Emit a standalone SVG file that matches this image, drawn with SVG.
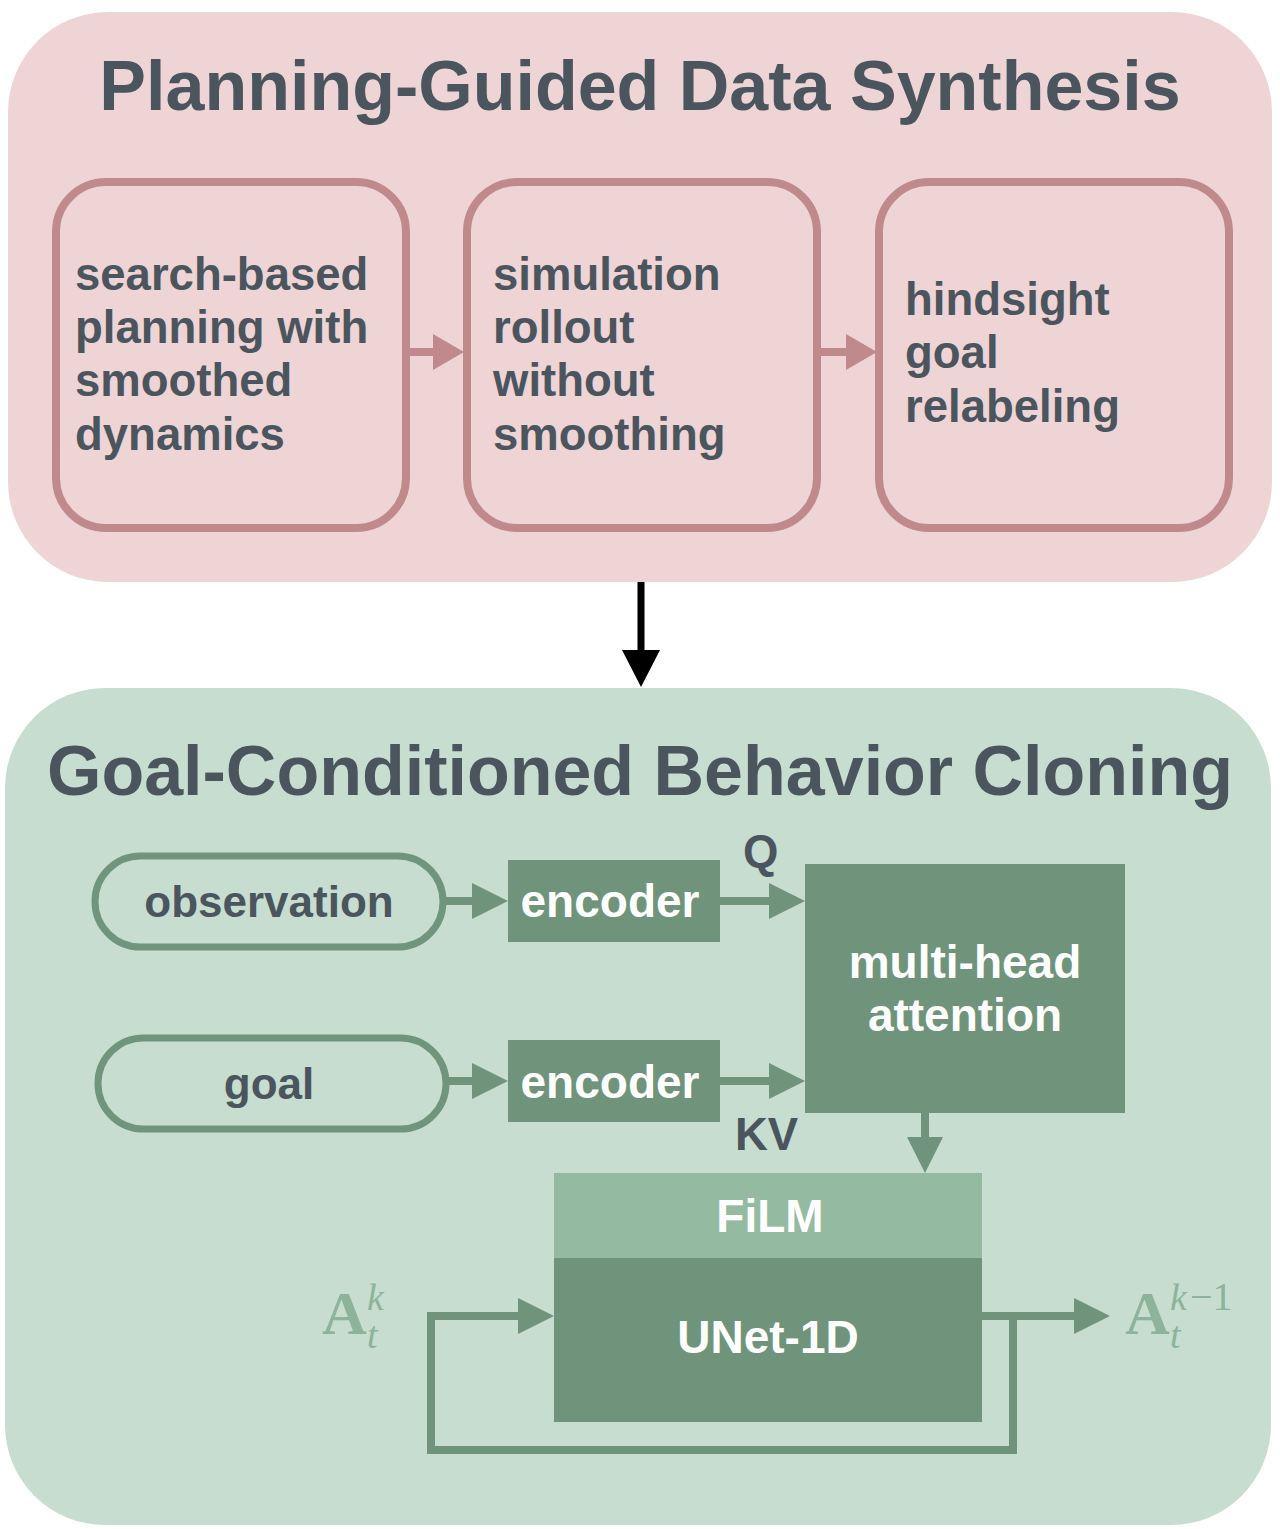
<svg xmlns="http://www.w3.org/2000/svg" width="1280" height="1529" viewBox="0 0 1280 1529">
<style>
.title{font-family:"Liberation Sans",Arial,sans-serif;font-weight:bold;font-size:70px;fill:#4b555e;text-anchor:middle}
.lbl{font-family:"Liberation Sans",Arial,sans-serif;font-weight:bold;font-size:45.5px;fill:#4b555e}
.olbl{font-family:"Liberation Sans",Arial,sans-serif;font-weight:bold;font-size:44px;fill:#4b555e;text-anchor:middle}
.wlbl{font-family:"Liberation Sans",Arial,sans-serif;font-weight:bold;font-size:46px;fill:#ffffff;text-anchor:middle}
.pbox{fill:none;stroke:#c08a8c;stroke-width:8}
.pill{fill:none;stroke:#6f967d;stroke-width:7}
.dark{fill:#6f947b}
.light{fill:#95baa2}
.math{font-family:"Liberation Serif","Times New Roman",serif;fill:#8db39a}
.pl{stroke:#c08a8c;stroke-width:8;fill:none}
.gl{stroke:#6f947b;stroke-width:8;fill:none}
</style>
<defs>
<marker id="hp" markerUnits="userSpaceOnUse" markerWidth="32" markerHeight="36" refX="0" refY="18" orient="auto"><path d="M0,0 L31,18 L0,36 z" fill="#c08a8c"/></marker>
<marker id="hg" markerUnits="userSpaceOnUse" markerWidth="37" markerHeight="36" refX="0" refY="18" orient="auto"><path d="M0,0 L36,18 L0,36 z" fill="#6f947b"/></marker>
<marker id="hb" markerUnits="userSpaceOnUse" markerWidth="38" markerHeight="38" refX="0" refY="19" orient="auto"><path d="M0,0 L37,19 L0,38 z" fill="#000000"/></marker>
</defs>

<g id="panel-planning">
<rect x="8" y="12" width="1264" height="570" rx="100" fill="#efd4d5"/>
<text class="title" x="640" y="110">Planning-Guided Data Synthesis</text>
</g>
<g id="node-search">
<rect class="pbox" x="56" y="182" width="350" height="346" rx="50"/>
<text class="lbl" x="75" y="290">search-based</text>
<text class="lbl" x="75" y="343">planning with</text>
<text class="lbl" x="75" y="396">smoothed</text>
<text class="lbl" x="75" y="450">dynamics</text>
</g>
<g id="node-rollout">
<rect class="pbox" x="467" y="182" width="350" height="346" rx="50"/>
<text class="lbl" x="493" y="290">simulation</text>
<text class="lbl" x="493" y="343">rollout</text>
<text class="lbl" x="493" y="396">without</text>
<text class="lbl" x="493" y="450">smoothing</text>
</g>
<g id="node-hindsight">
<rect class="pbox" x="879" y="182" width="350" height="346" rx="50"/>
<text class="lbl" x="905" y="315">hindsight</text>
<text class="lbl" x="905" y="368">goal</text>
<text class="lbl" x="905" y="422">relabeling</text>
</g>

<g id="panel-bc">
<rect x="5" y="688" width="1266" height="837" rx="100" fill="#c6ddd0"/>
<text class="title" x="640" y="795">Goal-Conditioned Behavior Cloning</text>
</g>
<g id="node-observation">
<rect class="pill" x="95" y="856" width="348" height="91" rx="45.5"/>
<text class="olbl" x="269" y="917">observation</text>
</g>
<g id="node-goal">
<rect class="pill" x="98" y="1038" width="348" height="91" rx="45.5"/>
<text class="olbl" x="269" y="1099">goal</text>
</g>
<g id="node-encoder-obs">
<rect class="dark" x="508" y="860" width="212" height="82"/>
<text class="wlbl" x="610" y="917">encoder</text>
</g>
<g id="node-encoder-goal">
<rect class="dark" x="508" y="1040" width="212" height="82"/>
<text class="wlbl" x="610" y="1098">encoder</text>
</g>
<g id="node-mha">
<rect class="dark" x="805" y="864" width="320" height="249"/>
<text class="wlbl" x="965" y="978">multi-head</text>
<text class="wlbl" x="965" y="1031">attention</text>
</g>
<g id="node-film">
<rect class="light" x="554" y="1173" width="428" height="86"/>
<text class="wlbl" x="770" y="1232">FiLM</text>
</g>
<g id="node-unet">
<rect class="dark" x="554" y="1258" width="428" height="164"/>
<text class="wlbl" x="768" y="1353">UNet-1D</text>
</g>
<g id="label-akt">
<text class="math" x="322" y="1334" font-size="62" font-weight="bold">A</text>
<text class="math" x="367" y="1310" font-size="38" font-style="italic">k</text>
<text class="math" x="367" y="1348" font-size="38" font-style="italic">t</text>
</g>
<g id="label-ak1t">
<text class="math" x="1125" y="1334" font-size="62" font-weight="bold">A</text>
<text class="math" x="1170" y="1310" font-size="38" font-style="italic">k</text>
<text class="math" x="1190" y="1310" font-size="40">−1</text>
<text class="math" x="1170" y="1348" font-size="38" font-style="italic">t</text>
</g>

<g id="connectors">
<line class="pl" x1="406" y1="352" x2="433" y2="352" marker-end="url(#hp)"/>
<line class="pl" x1="817" y1="352" x2="846" y2="352" marker-end="url(#hp)"/>
<line x1="641" y1="582" x2="641" y2="650" stroke="#000" stroke-width="7" marker-end="url(#hb)"/>
<line class="gl" x1="443" y1="901" x2="472" y2="901" marker-end="url(#hg)"/>
<line class="gl" x1="446" y1="1081" x2="472" y2="1081" marker-end="url(#hg)"/>
<line class="gl" x1="720" y1="901" x2="769" y2="901" marker-end="url(#hg)"/>
<line class="gl" x1="720" y1="1081" x2="769" y2="1081" marker-end="url(#hg)"/>
<text class="lbl" x="743" y="867" font-size="40">Q</text>
<text class="lbl" x="735" y="1150" font-size="40">KV</text>
<line class="gl" x1="925" y1="1113" x2="925" y2="1137" marker-end="url(#hg)"/>
<polyline class="gl" points="1013,1316 1013,1450 431,1450 431,1316 518,1316" marker-end="url(#hg)"/>
<line class="gl" x1="982" y1="1316" x2="1074" y2="1316" marker-end="url(#hg)"/>
</g>
</svg>
